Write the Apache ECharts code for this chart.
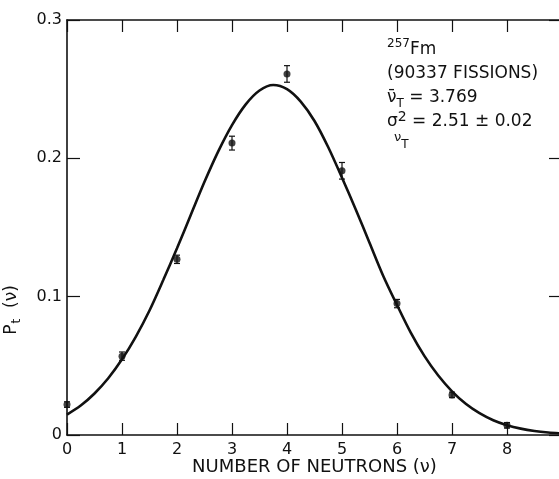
<!DOCTYPE html>
<html><head><meta charset="utf-8">
<script src="https://cdn.jsdelivr.net/npm/echarts@6/dist/echarts.min.js"></script>
<style>html,body{margin:0;padding:0;background:#fff}#c{width:559px;height:479px}</style>
</head><body><div id="c"></div>
<script>
// Measured points
const nu = [0, 1, 2, 3, 4, 5, 6, 7, 8];
const pMeasured = [0.022, 0.057, 0.127, 0.211, 0.261, 0.191, 0.095, 0.029, 0.007];
const pError = [0.002, 0.003, 0.003, 0.005, 0.006, 0.006, 0.003, 0.002, 0.002];
// Smooth curve
const curveNu = [0, 0.25, 0.5, 0.75, 1, 1.25, 1.5, 1.75, 2, 2.25, 2.5, 2.75, 3, 3.25, 3.5, 3.75, 4, 4.25, 4.5, 4.75, 5, 5.25, 5.5, 5.75, 6, 6.25, 6.5, 6.75, 7, 7.25, 7.5, 7.75, 8, 8.25, 8.5, 8.75, 9];
const curveP = [0.0148, 0.0213, 0.030, 0.041, 0.0547, 0.071, 0.090, 0.112, 0.135, 0.159, 0.183, 0.205, 0.224, 0.239, 0.249, 0.253, 0.250, 0.241, 0.227, 0.208, 0.186, 0.163, 0.139, 0.115, 0.094, 0.074, 0.057, 0.043, 0.0316, 0.0226, 0.0158, 0.0107, 0.0071, 0.0046, 0.0029, 0.0018, 0.0011];
const xTicks = [0, 1, 2, 3, 4, 5, 6, 7, 8];
const yTicks = [0, 0.1, 0.2, 0.3];

const FONT = 'DejaVu Sans';
const INK = '#111';
const chart = echarts.init(document.getElementById('c'), null, {renderer: 'canvas'});

const axisCommon = {
  type: 'value', min: 0, interval: 1,
  axisLine: {show: true, onZero: false, lineStyle: {color: INK, width: 1.6}},
  axisTick: {show: true, inside: true, length: 12, lineStyle: {color: INK, width: 1.2}},
  splitLine: {show: false}
};
const yCommon = {
  type: 'value', min: 0, max: 0.3, interval: 0.1,
  axisLine: {show: true, onZero: false, lineStyle: {color: INK, width: 1.6}},
  axisTick: {show: true, inside: true, length: 13, lineStyle: {color: INK, width: 1.2}},
  splitLine: {show: false}
};

chart.setOption({
  animation: false,
  backgroundColor: '#fff',
  grid: {left: 67, top: 20, bottom: 44, width: 495, containLabel: false, outerBoundsMode: 'none'},
  xAxis: [
    Object.assign({}, axisCommon, {
      max: 9, position: 'bottom',
      axisLabel: {show: true, color: INK, fontFamily: FONT, fontSize: 16, margin: 7,
        showMaxLabel: false,
        formatter: v => xTicks.includes(v) ? String(v) : ''},
      name: 'NUMBER OF NEUTRONS (ν)', nameLocation: 'middle', nameGap: 23, nameMoveOverlap: false,
      nameTextStyle: {color: INK, fontFamily: FONT, fontSize: 18}
    }),
    Object.assign({}, axisCommon, {max: 9, position: 'top', axisLabel: {show: false}})
  ],
  yAxis: [
    Object.assign({}, yCommon, {
      position: 'left',
      axisLabel: {show: true, color: INK, fontFamily: FONT, fontSize: 16, margin: 5,
        formatter: v => { const t = yTicks.find(k => Math.abs(k - v) < 1e-9); return t === undefined ? '' : (t === 0 ? '0' : t.toFixed(1)); }}
    }),
    Object.assign({}, yCommon, {position: 'right', axisLabel: {show: false}})
  ],
  graphic: [{
    type: 'text', x: 12, y: 310, rotation: Math.PI / 2, originX: 0, originY: 0,
    style: {
      text: '{p|P}{s|t}{p|  (ν)}',
      align: 'center', verticalAlign: 'middle',
      rich: {
        p: {fontFamily: FONT, fontSize: 17, fill: INK},
        s: {fontFamily: FONT, fontSize: 12, fill: INK, verticalAlign: 'bottom', padding: [10, 0, 0, 1]}
      }
    }
  }, {
    type: 'text', left: 387, top: 38,
    style: {
      text: '{sup|257}{m|Fm}\n{m|(90337 FISSIONS)}\n{m|ν̄}{sub|T}{m| = 3.769}\n{m|σ}{sup2|2}{m| = 2.51 ± 0.02}',
      rich: {
        m: {fontFamily: FONT, fontSize: 17, fill: INK, lineHeight: 24},
        sup: {fontFamily: FONT, fontSize: 12, fill: INK, verticalAlign: 'top', lineHeight: 24},
        sup2: {fontFamily: FONT, fontSize: 14, fill: INK, verticalAlign: 'top', lineHeight: 24},
        sub: {fontFamily: FONT, fontSize: 12, fill: INK, verticalAlign: 'bottom', lineHeight: 24}
      },
      fill: INK
    }
  }, {
    type: 'text', left: 394, top: 131,
    style: {
      text: '{a|ν}{b|T}',
      rich: {
        a: {fontFamily: FONT, fontSize: 13, fill: INK, verticalAlign: 'top', lineHeight: 16},
        b: {fontFamily: FONT, fontSize: 12, fill: INK, verticalAlign: 'bottom', lineHeight: 20}
      }
    }
  }],
  series: [
    {
      type: 'line', xAxisIndex: 0, yAxisIndex: 0, smooth: 0.3, symbol: 'none',
      data: curveNu.map((x, i) => [x, curveP[i]]),
      lineStyle: {color: INK, width: 2.6}
    },
    {
      type: 'custom', xAxisIndex: 0, yAxisIndex: 0,
      data: nu.map((x, i) => [x, pMeasured[i] - pError[i], pMeasured[i] + pError[i]]),
      renderItem: function (params, api) {
        const lo = api.coord([api.value(0), api.value(1)]);
        const hi = api.coord([api.value(0), api.value(2)]);
        const w = 3;
        const st = {stroke: INK, lineWidth: 1.2};
        return {type: 'group', children: [
          {type: 'line', shape: {x1: lo[0], y1: lo[1], x2: hi[0], y2: hi[1]}, style: st},
          {type: 'line', shape: {x1: lo[0] - w, y1: lo[1], x2: lo[0] + w, y2: lo[1]}, style: st},
          {type: 'line', shape: {x1: hi[0] - w, y1: hi[1], x2: hi[0] + w, y2: hi[1]}, style: st}
        ]};
      },
      z: 3
    },
    {
      type: 'scatter', xAxisIndex: 0, yAxisIndex: 0, symbol: 'circle', symbolSize: 7,
      data: nu.map((x, i) => [x, pMeasured[i]]),
      itemStyle: {color: INK}, z: 4
    }
  ]
});
</script></body></html>
